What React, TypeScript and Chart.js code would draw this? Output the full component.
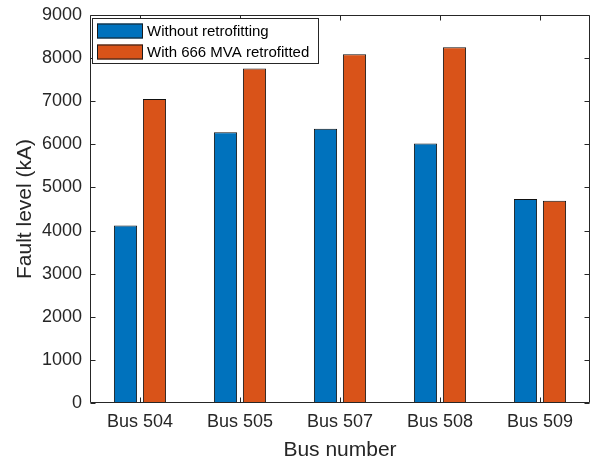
import React, { useEffect, useRef } from "react";
import { Chart, registerables } from "chart.js";

Chart.register(...registerables);

const categories = ["Bus 504", "Bus 505", "Bus 507", "Bus 508", "Bus 509"];
const withoutRetrofit = [4120, 6280, 6360, 6020, 4730];
const withRetrofit = [7050, 7760, 8090, 8250, 4690];
const seriesLabels = ["Without retrofitting", "With 666 MVA retrofitted"];
const seriesColors = ["#0072BD", "#D95319"];
const yMin = 0;
const yMax = 9000;
const yStep = 1000;

const AXIS = "#262626";
const FONT = "'Liberation Sans', Arial, Helvetica, sans-serif";

const framePlugin = {
  id: "matlabFrame",
  afterDraw(chart: any) {
    const ctx = chart.ctx;
    const { left, right, top, bottom } = chart.chartArea;
    const xs = chart.scales.x;
    const ys = chart.scales.y;
    ctx.save();
    ctx.strokeStyle = AXIS;
    ctx.lineWidth = 1;
    const L = Math.round(left) + 0.5;
    const R = Math.round(right) - 0.5;
    const T = Math.round(top) + 0.5;
    const B = Math.round(bottom) - 0.5;
    ctx.beginPath();
    ctx.rect(L, T, R - L, B - T);
    ctx.stroke();
    const tl = 5;
    ctx.beginPath();
    for (let v = yMin; v <= yMax; v += yStep) {
      const y = Math.round(ys.getPixelForValue(v)) + 0.5;
      ctx.moveTo(L, y);
      ctx.lineTo(L + tl, y);
      ctx.moveTo(R, y);
      ctx.lineTo(R - tl, y);
    }
    categories.forEach((_, i) => {
      const x = Math.round(xs.getPixelForValue(i)) + 0.5;
      ctx.moveTo(x, B);
      ctx.lineTo(x, B - tl);
      ctx.moveTo(x, T);
      ctx.lineTo(x, T + tl);
    });
    ctx.stroke();

    // legend
    const lx = 92.5, ly = 18.5, lw = 226, lh = 45;
    ctx.fillStyle = "#ffffff";
    ctx.fillRect(lx, ly, lw, lh);
    ctx.strokeStyle = AXIS;
    ctx.strokeRect(lx, ly, lw, lh);
    ctx.font = `15px ${FONT}`;
    ctx.textBaseline = "middle";
    ctx.textAlign = "left";
    seriesLabels.forEach((lab, i) => {
      const sy = 23.5 + i * 21;
      ctx.fillStyle = seriesColors[i];
      ctx.fillRect(97, sy, 46, 15);
      ctx.strokeStyle = "#1a1a1a";
      ctx.strokeRect(97.5, sy + 0.5, 45, 14);
      ctx.fillStyle = "#000000";
      ctx.fillText(lab, 147, sy + 8);
    });
    ctx.restore();
  },
};

export default function App() {
  const ref = useRef<HTMLCanvasElement | null>(null);
  useEffect(() => {
    if (!ref.current) return;
    const chart = new Chart(ref.current, {
      type: "bar",
      data: {
        labels: categories,
        datasets: [
          {
            label: seriesLabels[0],
            data: withoutRetrofit,
            backgroundColor: seriesColors[0],
            borderColor: "#111111",
            borderWidth: 1,
            borderSkipped: "start",
          },
          {
            label: seriesLabels[1],
            data: withRetrofit,
            backgroundColor: seriesColors[1],
            borderColor: "#111111",
            borderWidth: 1,
            borderSkipped: "start",
          },
        ],
      },
      options: {
        animation: false,
        responsive: false,
        devicePixelRatio: 1,
        layout: { padding: { top: 15, right: 1, left: 0, bottom: 0 } },
        datasets: { bar: { categoryPercentage: 0.58, barPercentage: 0.8 } },
        plugins: { legend: { display: false }, tooltip: { enabled: false } },
        scales: {
          x: {
            type: "category",
            offset: true,
            grid: { display: false, drawTicks: false },
            border: { display: false },
            ticks: { color: AXIS, font: { family: FONT, size: 18 }, padding: 8, maxRotation: 0 },
            title: {
              display: true,
              text: "Bus number",
              color: AXIS,
              font: { family: FONT, size: 21 },
              padding: { top: 0, bottom: -2.5 },
            },
            afterFit(scale: any) {
              scale.height = 57;
            },
          },
          y: {
            min: yMin,
            max: yMax,
            grid: { display: false, drawTicks: false },
            border: { display: false },
            ticks: {
              stepSize: yStep,
              color: AXIS,
              font: { family: FONT, size: 18 },
              padding: 8,
              callback: (v: any) => String(v),
            },
            title: {
              display: true,
              text: "Fault level (kA)",
              color: AXIS,
              font: { family: FONT, size: 21 },
              padding: { top: 13, bottom: 0 },
            },
            afterFit(scale: any) {
              scale.width = 90;
              scale.paddingTop = 0;
              scale.paddingBottom = 0;
            },
          },
        },
      },
      plugins: [framePlugin],
    });
    return () => chart.destroy();
  }, []);
  return (
    <div style={{ position: "fixed", left: 0, top: 0, width: 591, height: 460, background: "#fff" }}>
      <canvas ref={ref} width={591} height={460} style={{ width: 591, height: 460 }} />
    </div>
  );
}
